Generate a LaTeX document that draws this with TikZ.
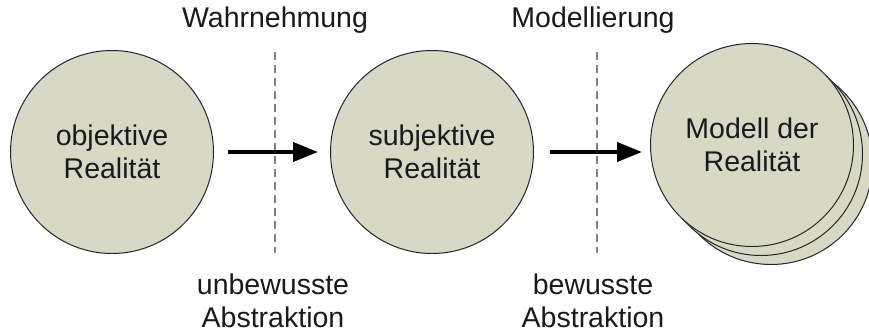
\documentclass[tikz,border=0pt]{standalone}
\usepackage{fontspec}
\setmainfont{Liberation Sans}
\usetikzlibrary{arrows.meta}
\definecolor{realfill}{HTML}{D7D9C5}
\definecolor{txt}{HTML}{1A1A1A}
\begin{document}
\begin{tikzpicture}[x=1pt,y=-1pt,
  realm/.style={circle,draw=black!85,line width=1pt,fill=realfill,minimum size=203pt,inner sep=0pt,
    align=center,text=txt,font=\fontsize{28.5}{33}\selectfont},
  label/.style={align=center,text=txt,font=\fontsize{28.5}{33}\selectfont,inner sep=0pt},
  arr/.style={line width=4pt,-{Triangle[length=25pt,width=19pt]}},
  sep/.style={gray,line width=2pt,dash pattern=on 8pt off 5pt}]
\useasboundingbox (0,0) rectangle (869,333);
% stacked model circles, back to front
\node[realm] (m3) at (771,163) {};
\node[realm] (m2) at (761,154) {};
\node[realm] (m) at (752,145) {Modell der\\Realität};
\node[realm] (o) at (112,152) {objektive\\Realität};
\node[realm] (s) at (432,152) {subjektive\\Realität};
% phase labels
\node[label] (w) at (275,20) {Wahrnehmung};
\node[label] (mo) at (593,20) {Modellierung};
\node[label] (ua) at (273,301) {unbewusste\\Abstraktion};
\node[label] (ba) at (593,301) {bewusste\\Abstraktion};
% separators
\coordinate (w1) at (275,52);
\coordinate (w2) at (275,253);
\coordinate (m1) at (597,52);
\coordinate (m2b) at (597,253);
\draw[sep] (w1) -- (w2);
\draw[sep] (m1) -- (m2b);
% transitions
\draw[arr,shorten <=14pt,shorten >=12pt] (o) -- (s);
\draw[arr,shorten <=16pt,shorten >=8pt] (s.east) -- (s.east -| m.west);
\end{tikzpicture}
\end{document}
